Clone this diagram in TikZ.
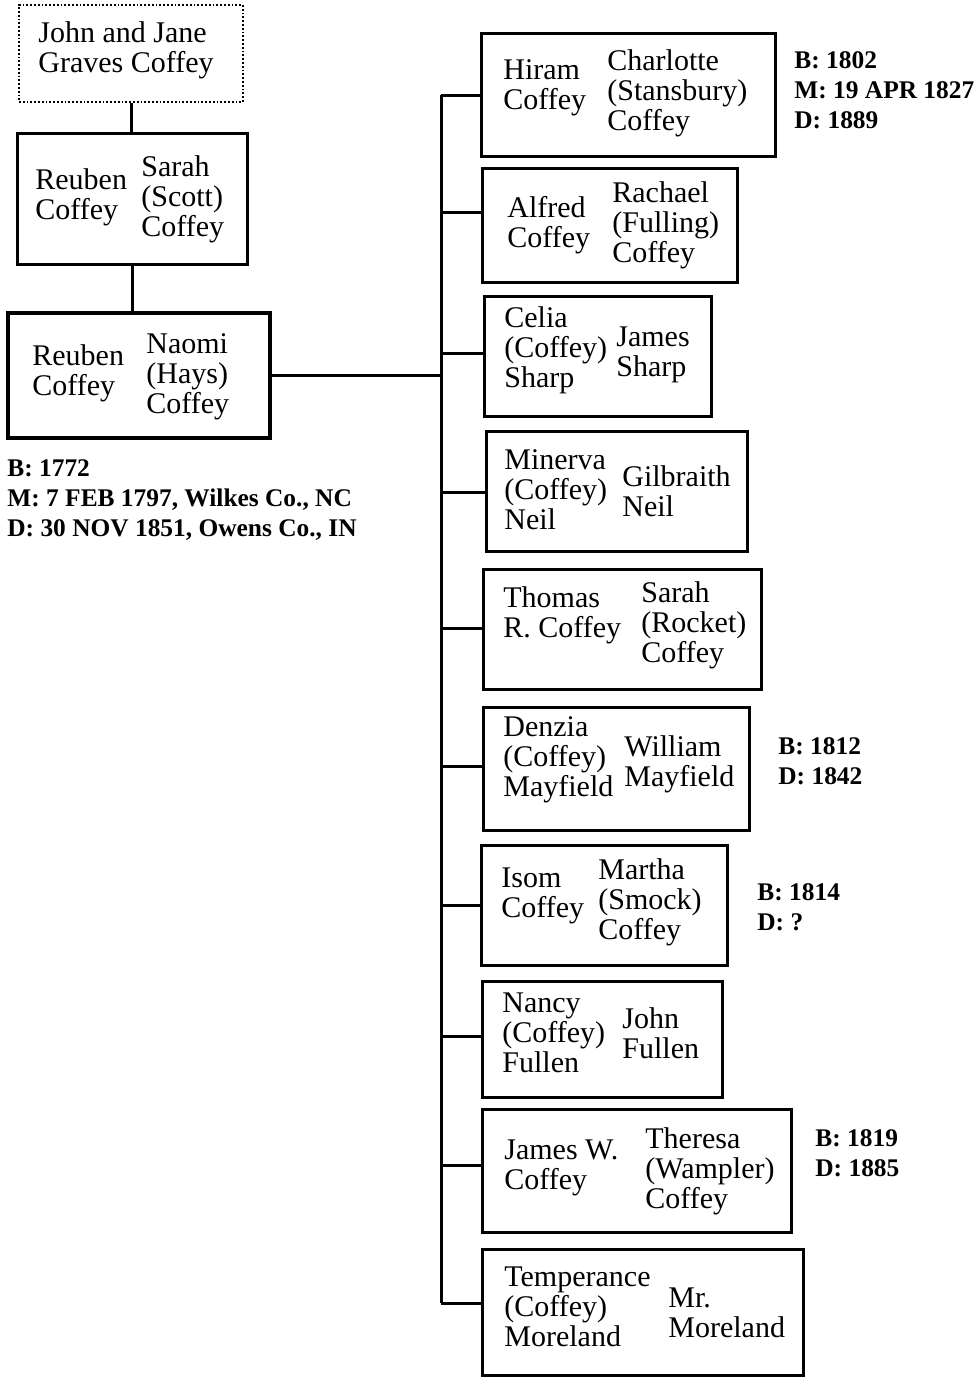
\documentclass[tikz,border=0pt]{standalone}
\usepackage{fontspec}
\setmainfont{Liberation Serif}
\usetikzlibrary{fit}
\tikzset{
  couplebox/.style={rectangle, draw=black, line width=1.5pt, inner sep=0pt},
  rootbox/.style={couplebox, line width=0.9pt, densely dotted},
  headbox/.style={couplebox, line width=2.2pt},
  nametext/.style={anchor=west, inner sep=0pt, align=left,
                   font=\fontsize{15}{15}\selectfont},
  notetext/.style={anchor=west, inner sep=0pt, align=left,
                   font=\bfseries\fontsize{12.7}{15}\selectfont},
  link/.style={draw=black, line width=1.5pt}
}

\begin{document}
\begin{tikzpicture}[x=0.5pt, y=-0.5pt]
  \useasboundingbox (0,0) rectangle (977,1378);

  % ancestors
  \node[rootbox, fit={(19,5) (243,102)}] (gen1) {};
  \node[nametext] (gen1name) at (38,50) {John and Jane\\Graves Coffey};

  \node[couplebox, fit={(17,133) (247,264)}] (gen2) {};
  \node[nametext] (gen2him) at (35,197) {Reuben\\Coffey};
  \node[nametext] (gen2her) at (141,199) {Sarah\\(Scott)\\Coffey};

  \node[headbox, fit={(8,313) (270,438)}] (gen3) {};
  \node[nametext] (gen3him) at (32,373) {Reuben\\Coffey};
  \node[nametext] (gen3her) at (146,377) {Naomi\\(Hays)\\Coffey};
  \node[notetext] (gen3note) at (7,500)
    {B: 1772\\M: 7 FEB 1797, Wilkes Co., NC\\D: 30 NOV 1851, Owens Co., IN};

  % children
  \node[couplebox, fit={(481,33) (775,156)}] (hiram) {};
  \node[nametext] (hiramhim) at (503,88) {Hiram\\Coffey};
  \node[nametext] (hiramher) at (607,93) {Charlotte\\(Stansbury)\\Coffey};
  \node[notetext] (hiramnote) at (794,90) {B: 1802\\M: 19 APR 1827\\D: 1889};

  \node[couplebox, fit={(482,168) (737,282)}] (alfred) {};
  \node[nametext] (alfredhim) at (507,225) {Alfred\\Coffey};
  \node[nametext] (alfredher) at (612,225) {Rachael\\(Fulling)\\Coffey};

  \node[couplebox, fit={(484,296) (711,416)}] (celia) {};
  \node[nametext] (celiaher) at (504,350) {Celia\\(Coffey)\\Sharp};
  \node[nametext] (celiahim) at (616,355) {James\\Sharp};

  \node[couplebox, fit={(486,431) (747,551)}] (minerva) {};
  \node[nametext] (minervaher) at (504,490) {Minerva\\(Coffey)\\Neil};
  \node[nametext] (minervahim) at (622,491) {Gilbraith\\Neil};

  \node[couplebox, fit={(483,569) (761,689)}] (thomas) {};
  \node[nametext] (thomashim) at (503,615) {Thomas\\R. Coffey};
  \node[nametext] (thomasher) at (641,625) {Sarah\\(Rocket)\\Coffey};

  \node[couplebox, fit={(483,707) (749,830)}] (denzia) {};
  \node[nametext] (denziaher) at (503,760) {Denzia\\(Coffey)\\Mayfield};
  \node[nametext] (denziahim) at (624,764) {William\\Mayfield};
  \node[notetext] (denzianote) at (778,761) {B: 1812\\D: 1842};

  \node[couplebox, fit={(481,845) (727,965)}] (isom) {};
  \node[nametext] (isomhim) at (501,896) {Isom\\Coffey};
  \node[nametext] (isomher) at (598,902) {Martha\\(Smock)\\Coffey};
  \node[notetext] (isomnote) at (757,907) {B: 1814\\D: ?};

  \node[couplebox, fit={(482,981) (722,1097)}] (nancy) {};
  \node[nametext] (nancyher) at (502,1033) {Nancy\\(Coffey)\\Fullen};
  \node[nametext] (nancyhim) at (622,1033) {John\\Fullen};

  \node[couplebox, fit={(482,1109) (791,1232)}] (jamesw) {};
  \node[nametext] (jameswhim) at (504,1168) {James W.\\Coffey};
  \node[nametext] (jameswher) at (645,1171) {Theresa\\(Wampler)\\Coffey};
  \node[notetext] (jameswnote) at (815,1153) {B: 1819\\D: 1885};

  \node[couplebox, fit={(482,1249) (803,1375)}] (temperance) {};
  \node[nametext] (temperanceher) at (504,1307) {Temperance\\(Coffey)\\Moreland};
  \node[nametext] (temperancehim) at (668,1313) {Mr.\\Moreland};

  % connectors
  \coordinate (trunktop) at (441,95);
  \coordinate (trunkbot) at (441,1303);
  \draw[link] (gen1.south) -- (gen1.south |- gen2.north);
  \draw[link] (gen2.south) -- (gen2.south |- gen3.north);
  \draw[link] (gen3.east) -- (gen3.east -| trunktop);
  \draw[link] (trunktop) -- (trunkbot);
  \foreach \child/\ypos in {hiram/95, alfred/212, celia/353, minerva/492,
      thomas/628, denzia/766, isom/905, nancy/1036, jamesw/1165,
      temperance/1303}
    \draw[link] (441,\ypos) -- (\child.west |- 0,\ypos);
\end{tikzpicture}
\end{document}
